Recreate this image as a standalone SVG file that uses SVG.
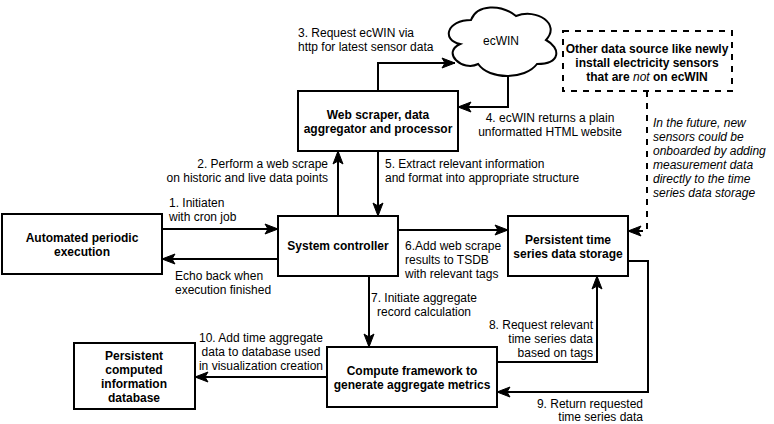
<svg xmlns="http://www.w3.org/2000/svg" width="774" height="424" viewBox="0 0 774 424">
<style>
.box{fill:#fff;stroke:#000;stroke-width:2}
.dash{fill:#fff;stroke:#000;stroke-width:2;stroke-dasharray:6 6}
.t{font-family:"Liberation Sans",Arial,sans-serif;font-size:12px;fill:#000}
.b{font-weight:bold;text-anchor:middle}
.m{text-anchor:middle}
.r{text-anchor:end}
.i{font-style:italic}
.e{fill:none;stroke:#000;stroke-width:2}
.ed{fill:none;stroke:#000;stroke-width:2;stroke-dasharray:6 6}
</style>
<defs>
<marker id="a" markerUnits="userSpaceOnUse" markerWidth="14" markerHeight="12" refX="13" refY="5" orient="auto" overflow="visible">
<path d="M0,0 L13,5 L0,10 L3,5 Z" fill="#000" stroke="#000" stroke-width="1"/>
</marker>
</defs>
<rect width="774" height="424" fill="#fff"/>
<g id="connectors">
<path class="e" d="M162,229 H278" marker-end="url(#a)"/>
<path class="e" d="M278,259 H162" marker-end="url(#a)"/>
<path class="e" d="M338,216 V151" marker-end="url(#a)"/>
<path class="e" d="M378,151 V216" marker-end="url(#a)"/>
<path class="e" d="M378,91 V63 H455" marker-end="url(#a)"/>
<path class="e" d="M508,76 V107 H458" marker-end="url(#a)"/>
<path class="e" d="M398,230 H508" marker-end="url(#a)"/>
<path class="e" d="M369,276 V347" marker-end="url(#a)"/>
<path class="e" d="M497,362 H597 V276" marker-end="url(#a)"/>
<path class="e" d="M628,261 H648 V392 H497" marker-end="url(#a)"/>
<path class="e" d="M327,377 H195" marker-end="url(#a)"/>
<path class="ed" d="M647,91 V231 H628" marker-end="url(#a)"/>
<text class="t" x="298" y="37">3. Request ecWIN via</text>
<text class="t" x="298" y="51">http for latest sensor data</text>
<text class="t m" x="550" y="122">4. ecWIN returns a plain</text>
<text class="t m" x="550" y="136">unformatted HTML website</text>
<text class="t r" x="328" y="168">2. Perform a web scrape</text>
<text class="t r" x="328" y="182">on historic and live data points</text>
<text class="t" x="385" y="168">5. Extract relevant information</text>
<text class="t" x="385" y="182">and format into appropriate structure</text>
<text class="t" x="169" y="207">1. Initiaten</text>
<text class="t" x="169" y="221">with cron job</text>
<text class="t" x="175" y="280">Echo back when</text>
<text class="t" x="175" y="294">execution finished</text>
<text class="t" x="405" y="250">6.Add web scrape</text>
<text class="t" x="405" y="264">results to TSDB</text>
<text class="t" x="405" y="278">with relevant tags</text>
<text class="t m" x="424" y="302">7. Initiate aggregate</text>
<text class="t m" x="424" y="316">record calculation</text>
<text class="t r" x="593" y="329">8. Request relevant</text>
<text class="t r" x="593" y="343">time series data</text>
<text class="t r" x="593" y="357">based on tags</text>
<text class="t r" x="643" y="408">9. Return requested</text>
<text class="t r" x="643" y="421">time series data</text>
<text class="t m" x="261" y="342">10. Add time aggregate</text>
<text class="t m" x="261" y="356">data to database used</text>
<text class="t m" x="261" y="370">in visualization creation</text>
<text class="t i" x="653" y="127">In the future, new</text>
<text class="t i" x="653" y="141">sensors could be</text>
<text class="t i" x="653" y="155">onboarded by adding</text>
<text class="t i" x="653" y="169">measurement data</text>
<text class="t i" x="653" y="183">directly to the time</text>
<text class="t i" x="653" y="197">series data storage</text>
</g>
<g id="ecwin">
<path class="box" d="M471,20 C447,20 441,40 460.2,44 C441,52.8 462.6,72 478.2,64 C489,80 525,80 537,64 C561,64 561,48 546,40 C561,24 537,8 516,16 C501,4 477,4 471,20 Z"/>
<text class="t m" x="501" y="45">ecWIN</text>
</g>
<g id="other-source">
<rect class="dash" x="563" y="31" width="169" height="60"/>
<text class="t b" x="647" y="53">Other data source like newly</text>
<text class="t b" x="647" y="67">install electricity sensors</text>
<text class="t b" x="647" y="81">that are <tspan font-style="italic" font-weight="normal">not</tspan> on ecWIN</text>
</g>
<g id="web-scraper">
<rect class="box" x="298" y="91" width="160" height="60"/>
<text class="t b" x="378" y="119">Web scraper, data</text>
<text class="t b" x="378" y="133">aggregator and processor</text>
</g>
<g id="automated">
<rect class="box" x="2" y="214" width="160" height="60"/>
<text class="t b" x="82" y="242">Automated periodic</text>
<text class="t b" x="82" y="256">execution</text>
</g>
<g id="system-controller">
<rect class="box" x="278" y="216" width="120" height="60"/>
<text class="t b" x="338" y="250">System controller</text>
</g>
<g id="tsdb">
<rect class="box" x="508" y="216" width="120" height="60"/>
<text class="t b" x="568" y="244">Persistent time</text>
<text class="t b" x="568" y="258">series data storage</text>
</g>
<g id="compute">
<rect class="box" x="327" y="347" width="170" height="60"/>
<text class="t b" x="412" y="375">Compute framework to</text>
<text class="t b" x="412" y="389">generate aggregate metrics</text>
</g>
<g id="computed-db">
<rect class="box" x="74" y="343" width="121" height="66"/>
<text class="t b" x="134" y="360">Persistent</text>
<text class="t b" x="134" y="374">computed</text>
<text class="t b" x="134" y="388">information</text>
<text class="t b" x="134" y="402">database</text>
</g>
</svg>
